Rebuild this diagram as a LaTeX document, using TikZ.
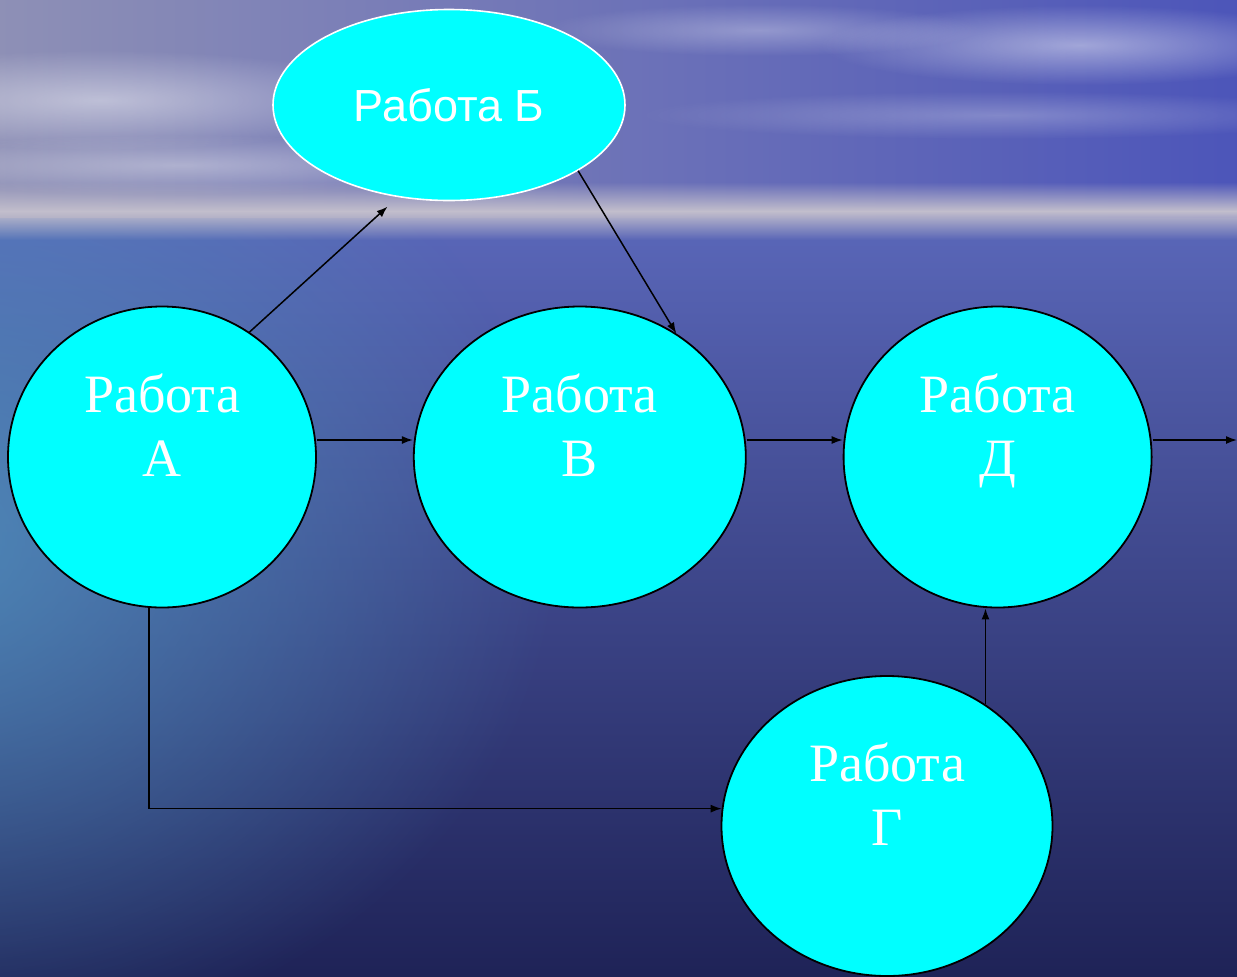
\documentclass[tikz,border=0pt]{standalone}
\usepackage{fontspec}
\usepackage{tikz}
\usetikzlibrary{arrows.meta,positioning,shapes.geometric,fadings}
\newfontfamily\jobserif{Liberation Serif}
\newfontfamily\jobsans{Liberation Sans}
\definecolor{jobfill}{HTML}{00FFFF}
\definecolor{skyleft}{HTML}{8E90B6}
\definecolor{skyright}{HTML}{4C55B9}
\definecolor{haze}{HTML}{C2BECC}
\definecolor{seatop}{HTML}{5A67B9}
\definecolor{seabottom}{HTML}{1E2256}
\definecolor{seaglow}{HTML}{4F8FBC}
\tikzfading[name=haze band,
	top color=transparent!100,
	bottom color=transparent!100,
	middle color=transparent!0]
\tikzfading[name=soft,
	inner color=transparent!0,
	outer color=transparent!100]
\tikzset{node distance=48pt,
	every job/.style={
		ellipse,
		inner sep=0pt,
		fill=jobfill,
		text=white,
		align=center
	},
	job/.style={
		every job,
		draw=black,
		line width=0.9pt,
		font=\jobserif\fontsize{27}{32}\selectfont
	},
	topjob/.style={
		every job,
		draw=white,
		line width=0.8pt,
		font=\jobsans\fontsize{22.5}{27}\selectfont
	},
	every edge/.style={
		draw,
		->,>={Latex[length=5.5pt,width=4pt]},
		line width=0.75pt
	},
	cloud/.style={
		white,
		opacity=#1,
		path fading=soft
	}
}

\begin{document}
\begin{tikzpicture}[x=0.5pt,y=-0.5pt]
		\useasboundingbox (0,0) rectangle (1237,976);
		% sky
		\shade[left color=skyleft,right color=skyright] (-5,-5) rectangle (1245,225);
		\fill[cloud=0.45] (1080,45) ellipse [x radius=260,y radius=40];
		\fill[cloud=0.3] (760,30) ellipse [x radius=220,y radius=26];
		\fill[cloud=0.45] (100,100) ellipse [x radius=300,y radius=50];
		\fill[cloud=0.35] (180,165) ellipse [x radius=340,y radius=30];
		\fill[cloud=0.25] (1000,115) ellipse [x radius=360,y radius=24];
		% sea
		\shade[top color=seatop,bottom color=seabottom] (-5,218) rectangle (1245,985);
		\begin{scope}
			\clip (-5,218) rectangle (1245,985);
			\fill[seaglow,opacity=0.9,path fading=soft]
				(-80,540) ellipse [x radius=640,y radius=520];
		\end{scope}
		\fill[haze,path fading=haze band] (-5,182) rectangle (1245,240);

		% jobs
		\node[job,minimum width=154pt,minimum height=150.5pt] (a) at (162,457) {Работа\\А\\\mbox{}};
		\node[job,minimum width=166pt,minimum height=150.5pt,right=of a] (v) {Работа\\В\\\mbox{}};
		\node[job,minimum width=154pt,minimum height=150.5pt,right=of v] (d) {Работа\\Д\\\mbox{}};
		\node[topjob,minimum width=176pt,minimum height=95.5pt] (b) at (449,105) {Работа Б};
		\node[job,minimum width=165.5pt,minimum height=150pt] (g) at (887,826) {Работа\\Г\\\mbox{}};
		\coordinate (out) at (1237,440);

		\draw (a.55) edge[shorten >=7pt] (b.241);
		\draw (b.333) edge (v.52);
		\draw ([yshift=8.5pt]a.east) edge ([yshift=8.5pt]v.west);
		\draw ([yshift=8.5pt]v.east) edge ([yshift=8.5pt]d.west);
		\draw ([yshift=8.5pt]d.east) edge (out);
		\draw (g.51) edge (g.51 |- d.south);
		\draw (a.265) edge[to path={|- (\tikztotarget)}] (g.174);
	\end{tikzpicture}
\end{document}
